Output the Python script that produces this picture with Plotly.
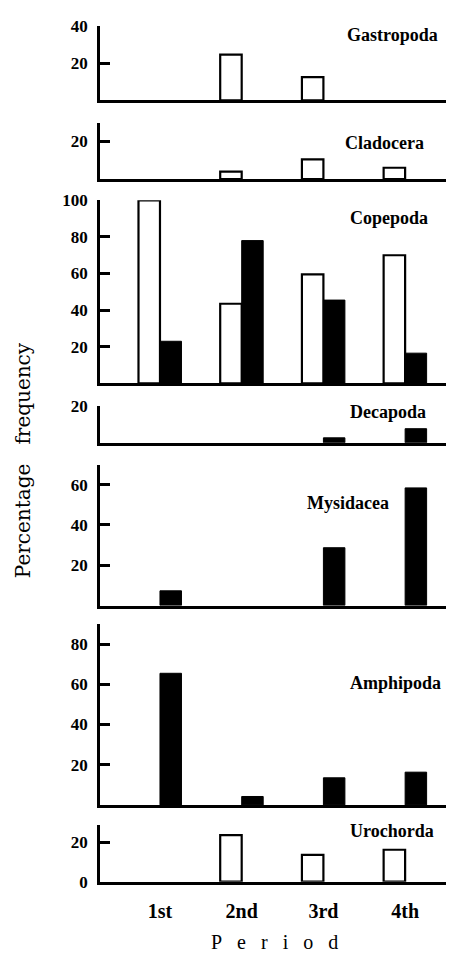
import plotly.graph_objects as go
from plotly.subplots import make_subplots

W, H = 454, 968
OFF = 8  # the page draws the figure 8 px right and 8 px down

categories = ["1st", "2nd", "3rd", "4th"]
panel_names = ["Gastropoda", "Cladocera", "Copepoda", "Decapoda", "Mysidacea", "Amphipoda", "Urochorda"]

# open (white) bars and filled (black) bars for each taxon
gastropoda_open = [None, 24.5, 12.5, None]
gastropoda_filled = [None, None, None, None]
cladocera_open = [None, 4, 10.5, 6]
cladocera_filled = [None, None, None, None]
copepoda_open = [100, 43.5, 59.5, 70]
copepoda_filled = [23, 78, 45.5, 16.5]
decapoda_open = [None, None, None, None]
decapoda_filled = [None, None, 2.7, 7.7]
mysidacea_open = [None, None, None, None]
mysidacea_filled = [7.3, None, 28.7, 58.4]
amphipoda_open = [None, None, None, None]
amphipoda_filled = [65.5, 4.2, 13.5, 16.3]
urochorda_open = [None, 23.8, 13.7, 16.3]
urochorda_filled = [None, None, None, None]

open_series = [gastropoda_open, cladocera_open, copepoda_open, decapoda_open,
               mysidacea_open, amphipoda_open, urochorda_open]
filled_series = [gastropoda_filled, cladocera_filled, copepoda_filled, decapoda_filled,
                 mysidacea_filled, amphipoda_filled, urochorda_filled]

y_max = [40, 30, 100, 20, 70, 90, 29]
y_ticks = [[20, 40], [20], [20, 40, 60, 80, 100], [20], [20, 40, 60], [20, 40, 60, 80], [0, 20]]

# layout in screen pixels: top and baseline of each panel
panel_top = [17, 115.7, 195, 405, 464.5, 627.2, 832]
panel_base = [93, 173.3, 381.7, 442.3, 608.3, 811.7, 890]
label_pos = [(345, 26), (343, 137), (348, 213), (348, 411), (305, 504), (348, 687), (348, 838)]

AX_LEFT = 100  # screen x of the y axes
L = AX_LEFT - OFF
PW = W - L


def px(x):
    return (x - AX_LEFT) / PW


def py(y):
    return 1 - (y - OFF) / H


fig = make_subplots(rows=7, cols=1, shared_xaxes=True, vertical_spacing=0.01)

BW = 0.263
SERIF = "Liberation Serif"
for i in range(7):
    r = i + 1
    fig.add_trace(go.Bar(x=categories, y=open_series[i], width=BW, offset=-BW,
                         marker=dict(color="white", line=dict(color="black", width=2.2)),
                         showlegend=False), row=r, col=1)
    fig.add_trace(go.Bar(x=categories, y=filled_series[i], width=BW, offset=0,
                         marker=dict(color="black", line=dict(color="black", width=1)),
                         showlegend=False), row=r, col=1)
    fig.update_yaxes(domain=[py(panel_base[i]), py(panel_top[i])], range=[0, y_max[i]],
                     tickvals=y_ticks[i],
                     showline=True, linewidth=2.8, linecolor="black",
                     ticks="inside", ticklen=10, tickwidth=2.5, tickcolor="black",
                     ticklabelstandoff=6,
                     showgrid=False, zeroline=False,
                     tickfont=dict(family=SERIF, size=17, color="black", weight="bold"),
                     row=r, col=1)
    fig.update_xaxes(type="category", range=[-0.734, 3.696], showline=True, linewidth=2.5,
                     linecolor="black", ticks="", showgrid=False, zeroline=False,
                     ticklabelstandoff=10,
                     tickfont=dict(family=SERIF, size=20, color="black", weight="bold"),
                     row=r, col=1)
    lx, ly = label_pos[i]
    fig.add_annotation(text=panel_names[i], xref="paper", yref="paper",
                       x=px(lx), y=py(ly), showarrow=False,
                       xanchor="left", yanchor="middle",
                       font=dict(family=SERIF, size=18, color="black", weight="bold"))

fig.update_xaxes(showticklabels=True, row=7, col=1)

fig.add_annotation(text="Percentage\u00a0\u00a0\u00a0frequency", xref="paper", yref="paper",
                   x=px(23), y=py(460), textangle=-90, showarrow=False,
                   xanchor="center", yanchor="middle",
                   font=dict(family="DejaVu Serif", size=20, color="black"))
fig.add_annotation(text="P\u00a0\u00a0\u00a0e\u00a0\u00a0\u00a0r\u00a0\u00a0\u00a0i\u00a0\u00a0\u00a0o\u00a0\u00a0\u00a0d",
                   xref="paper", yref="paper",
                   x=px(274), y=py(952), showarrow=False,
                   xanchor="center", yanchor="middle",
                   font=dict(family=SERIF, size=20, color="black"))

fig.update_layout(width=W, height=H, margin=dict(l=L, r=0, t=0, b=0),
                  paper_bgcolor="white", plot_bgcolor="white", barmode="overlay")

fig.write_html("out.html")
